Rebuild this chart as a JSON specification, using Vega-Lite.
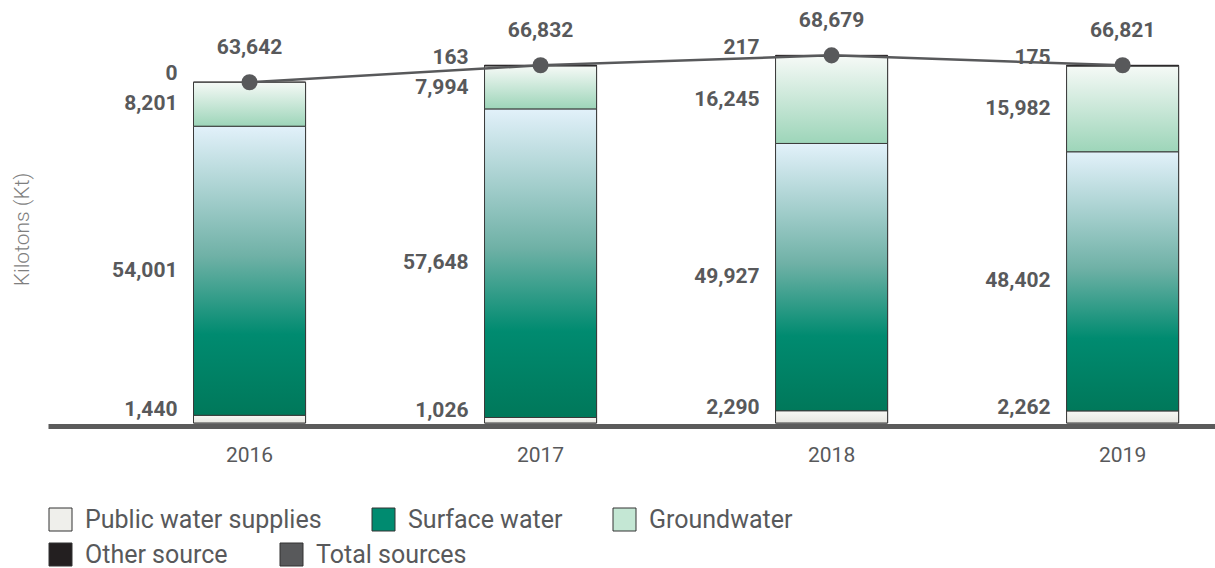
{
  "$schema": "https://vega.github.io/schema/vega-lite/v6.json",
  "width": 1167,
  "height": 400,
  "autosize": {"type": "none"},
  "padding": {"left": 48, "top": 23, "right": 0, "bottom": 145},
  "background": "white",
  "config": {
    "view": {"stroke": null},
    "font": "Roboto",
    "text": {"font": "Roboto"}
  },
  "datasets": {
    "src": [
      {"year": "2016", "series": "Public water supplies", "kt": 1440},
      {"year": "2016", "series": "Surface water", "kt": 54001},
      {"year": "2016", "series": "Groundwater", "kt": 8201},
      {"year": "2016", "series": "Other source", "kt": 0},
      {"year": "2017", "series": "Public water supplies", "kt": 1026},
      {"year": "2017", "series": "Surface water", "kt": 57648},
      {"year": "2017", "series": "Groundwater", "kt": 7994},
      {"year": "2017", "series": "Other source", "kt": 163},
      {"year": "2018", "series": "Public water supplies", "kt": 2290},
      {"year": "2018", "series": "Surface water", "kt": 49927},
      {"year": "2018", "series": "Groundwater", "kt": 16245},
      {"year": "2018", "series": "Other source", "kt": 217},
      {"year": "2019", "series": "Public water supplies", "kt": 2262},
      {"year": "2019", "series": "Surface water", "kt": 48402},
      {"year": "2019", "series": "Groundwater", "kt": 15982},
      {"year": "2019", "series": "Other source", "kt": 175}
    ],
    "tot": [
      {"year": "2016", "total": 63642},
      {"year": "2017", "total": 66832},
      {"year": "2018", "total": 68679},
      {"year": "2019", "total": 66821}
    ]
  },
  "layer": [
    {
      "data": {"name": "src"},
      "transform": [
        {"calculate": "indexof(['Public water supplies','Surface water','Groundwater','Other source'], datum.series)", "as": "k"},
        {"stack": "kt", "groupby": ["year"], "sort": [{"field": "k", "order": "ascending"}], "as": ["v0", "v1"], "offset": "zero"}
      ],
      "layer": [
        {
          "transform": [{"filter": "datum.series !== 'Other source'"}],
          "mark": {"type": "bar", "stroke": "#3a3a3a", "strokeWidth": 1},
          "encoding": {
            "x": {
              "field": "year", "type": "ordinal", "title": null,
              "scale": {"paddingInner": 0.615, "paddingOuter": 0.3125, "align": 0.8},
              "axis": {
                "labelAngle": 0, "ticks": false, "domainColor": "#5b5b5b", "domainWidth": 5,
                "offset": 3, "labelFontSize": 21, "labelColor": "#58595b", "labelPadding": 18,
                "labelFont": "Roboto"
              }
            },
            "y": {
              "field": "v1", "type": "quantitative", "title": "Kilotons (Kt)",
              "scale": {"domain": [0, 74720], "nice": false},
              "axis": {
                "labels": false, "ticks": false, "domain": false, "grid": false,
                "titleFontSize": 21, "titleColor": "#7f7f7f", "titleFontWeight": 300,
                "titleFont": "Roboto", "titleX": -16, "titleY": 206, "titleBaseline": "bottom", "titleAngle": 270
              }
            },
            "y2": {"field": "v0"},
            "color": {
              "field": "series", "type": "nominal",
              "scale": {
                "domain": ["Public water supplies", "Surface water", "Groundwater"],
                "range": ["#efefeb", "#008b70", "#c4e7d4"]
              },
              "legend": {
                "title": null, "orient": "none", "legendX": 0, "legendY": 484,
                "direction": "horizontal", "columns": 3,
                "columnPadding": 48,
                "symbolType": "square", "symbolSize": 529, "symbolStrokeColor": "#333333",
                "symbolStrokeWidth": 1, "symbolOpacity": 1,
                "labelFontSize": 25, "labelColor": "#58595b", "labelFont": "Roboto",
                "labelOffset": 12, "labelLimit": 400
              }
            }
          }
        },
        {
          "transform": [{"filter": "datum.series === 'Other source'"}],
          "mark": {"type": "bar", "stroke": "#231f20", "strokeWidth": 1},
          "encoding": {
            "x": {"field": "year", "type": "ordinal", "title": null},
            "y": {"field": "v1", "type": "quantitative", "title": "Kilotons (Kt)"},
            "y2": {"field": "v0"},
            "fill": {
              "field": "series", "type": "nominal",
              "scale": {"domain": ["Other source", "Total sources"], "range": ["#231f20", "#58595b"]},
              "legend": {
                "title": null, "orient": "none", "legendX": 0, "legendY": 519,
                "direction": "horizontal", "columnPadding": 50,
                "symbolType": "square", "symbolSize": 529, "symbolStrokeColor": "#333333",
                "symbolStrokeWidth": 1, "symbolOpacity": 1,
                "labelFontSize": 25, "labelColor": "#58595b", "labelFont": "Roboto",
                "labelOffset": 12, "labelLimit": 400
              }
            }
          }
        },
        {
          "transform": [{"filter": "datum.series === 'Public water supplies'"}],
          "mark": {"type": "bar", "stroke": "#3a3a3a", "strokeWidth": 1,
            "fill": {"gradient": "linear", "x1": 0, "y1": 0, "x2": 0, "y2": 1, "stops": [{"offset": 0, "color": "#f8f8f5"}, {"offset": 1, "color": "#e6e6e0"}]}},
          "encoding": {
            "x": {"field": "year", "type": "ordinal", "title": null},
            "y": {"field": "v1", "type": "quantitative", "title": "Kilotons (Kt)"},
            "y2": {"field": "v0"}
          }
        },
        {
          "transform": [{"filter": "datum.series === 'Surface water'"}],
          "mark": {"type": "bar", "stroke": "#3a3a3a", "strokeWidth": 1,
            "fill": {"gradient": "linear", "x1": 0, "y1": 0, "x2": 0, "y2": 1, "stops": [{"offset": 0, "color": "#e2f1fa"}, {"offset": 0.45, "color": "#6fb1a6"}, {"offset": 0.72, "color": "#008b70"}, {"offset": 1, "color": "#00785a"}]}},
          "encoding": {
            "x": {"field": "year", "type": "ordinal", "title": null},
            "y": {"field": "v1", "type": "quantitative", "title": "Kilotons (Kt)"},
            "y2": {"field": "v0"}
          }
        },
        {
          "transform": [{"filter": "datum.series === 'Groundwater'"}],
          "mark": {"type": "bar", "stroke": "#3a3a3a", "strokeWidth": 1,
            "fill": {"gradient": "linear", "x1": 0, "y1": 0, "x2": 0, "y2": 1, "stops": [{"offset": 0, "color": "#f5f9f6"}, {"offset": 1, "color": "#9dd5b9"}]}},
          "encoding": {
            "x": {"field": "year", "type": "ordinal", "title": null},
            "y": {"field": "v1", "type": "quantitative", "title": "Kilotons (Kt)"},
            "y2": {"field": "v0"}
          }
        },
        {
          "mark": {"type": "text", "align": "right", "baseline": "middle", "dx": -16, "dy": 0, "fontSize": 21, "fontWeight": "bold", "color": "#58595b"},
          "encoding": {
            "x": {"field": "year", "type": "ordinal", "bandPosition": 0, "title": null},
            "y": {"field": "kt", "type": "quantitative", "stack": "zero", "bandPosition": 0.5, "title": "Kilotons (Kt)"},
            "detail": {"field": "series"},
            "order": {"field": "k", "type": "quantitative"},
            "text": {"condition": {"test": "datum.series === 'Surface water' || datum.series === 'Groundwater'", "field": "kt", "type": "quantitative", "format": ","}, "value": ""}
          }
        },
        {
          "mark": {"type": "text", "align": "right", "baseline": "middle", "dx": -16, "dy": -9, "fontSize": 21, "fontWeight": "bold", "color": "#58595b"},
          "encoding": {
            "x": {"field": "year", "type": "ordinal", "bandPosition": 0, "title": null},
            "y": {"field": "kt", "type": "quantitative", "stack": "zero", "bandPosition": 0.5, "title": "Kilotons (Kt)"},
            "detail": {"field": "series"},
            "order": {"field": "k", "type": "quantitative"},
            "text": {"condition": {"test": "datum.series === 'Public water supplies'", "field": "kt", "type": "quantitative", "format": ","}, "value": ""}
          }
        },
        {
          "mark": {"type": "text", "align": "right", "baseline": "middle", "dx": -16, "dy": -8, "fontSize": 21, "fontWeight": "bold", "color": "#58595b"},
          "encoding": {
            "x": {"field": "year", "type": "ordinal", "bandPosition": 0, "title": null},
            "y": {"field": "kt", "type": "quantitative", "stack": "zero", "bandPosition": 0.5, "title": "Kilotons (Kt)"},
            "detail": {"field": "series"},
            "order": {"field": "k", "type": "quantitative"},
            "text": {"condition": {"test": "datum.series === 'Other source'", "field": "kt", "type": "quantitative", "format": ","}, "value": ""}
          }
        }
      ]
    },
    {
      "data": {"name": "tot"},
      "layer": [
        {
          "mark": {"type": "line", "color": "#58595b", "strokeWidth": 2.5},
          "encoding": {
            "x": {"field": "year", "type": "ordinal", "title": null},
            "y": {"field": "total", "type": "quantitative", "title": "Kilotons (Kt)"}
          }
        },
        {
          "mark": {"type": "point", "filled": true, "color": "#58595b", "size": 260, "opacity": 1},
          "encoding": {
            "x": {"field": "year", "type": "ordinal", "title": null},
            "y": {"field": "total", "type": "quantitative", "title": "Kilotons (Kt)"}
          }
        },
        {
          "mark": {"type": "text", "align": "center", "baseline": "middle", "dy": -34, "fontSize": 21, "fontWeight": "bold", "color": "#58595b"},
          "encoding": {
            "x": {"field": "year", "type": "ordinal", "title": null},
            "y": {"field": "total", "type": "quantitative", "title": "Kilotons (Kt)"},
            "text": {"field": "total", "type": "quantitative", "format": ","}
          }
        }
      ]
    }
  ]
}
